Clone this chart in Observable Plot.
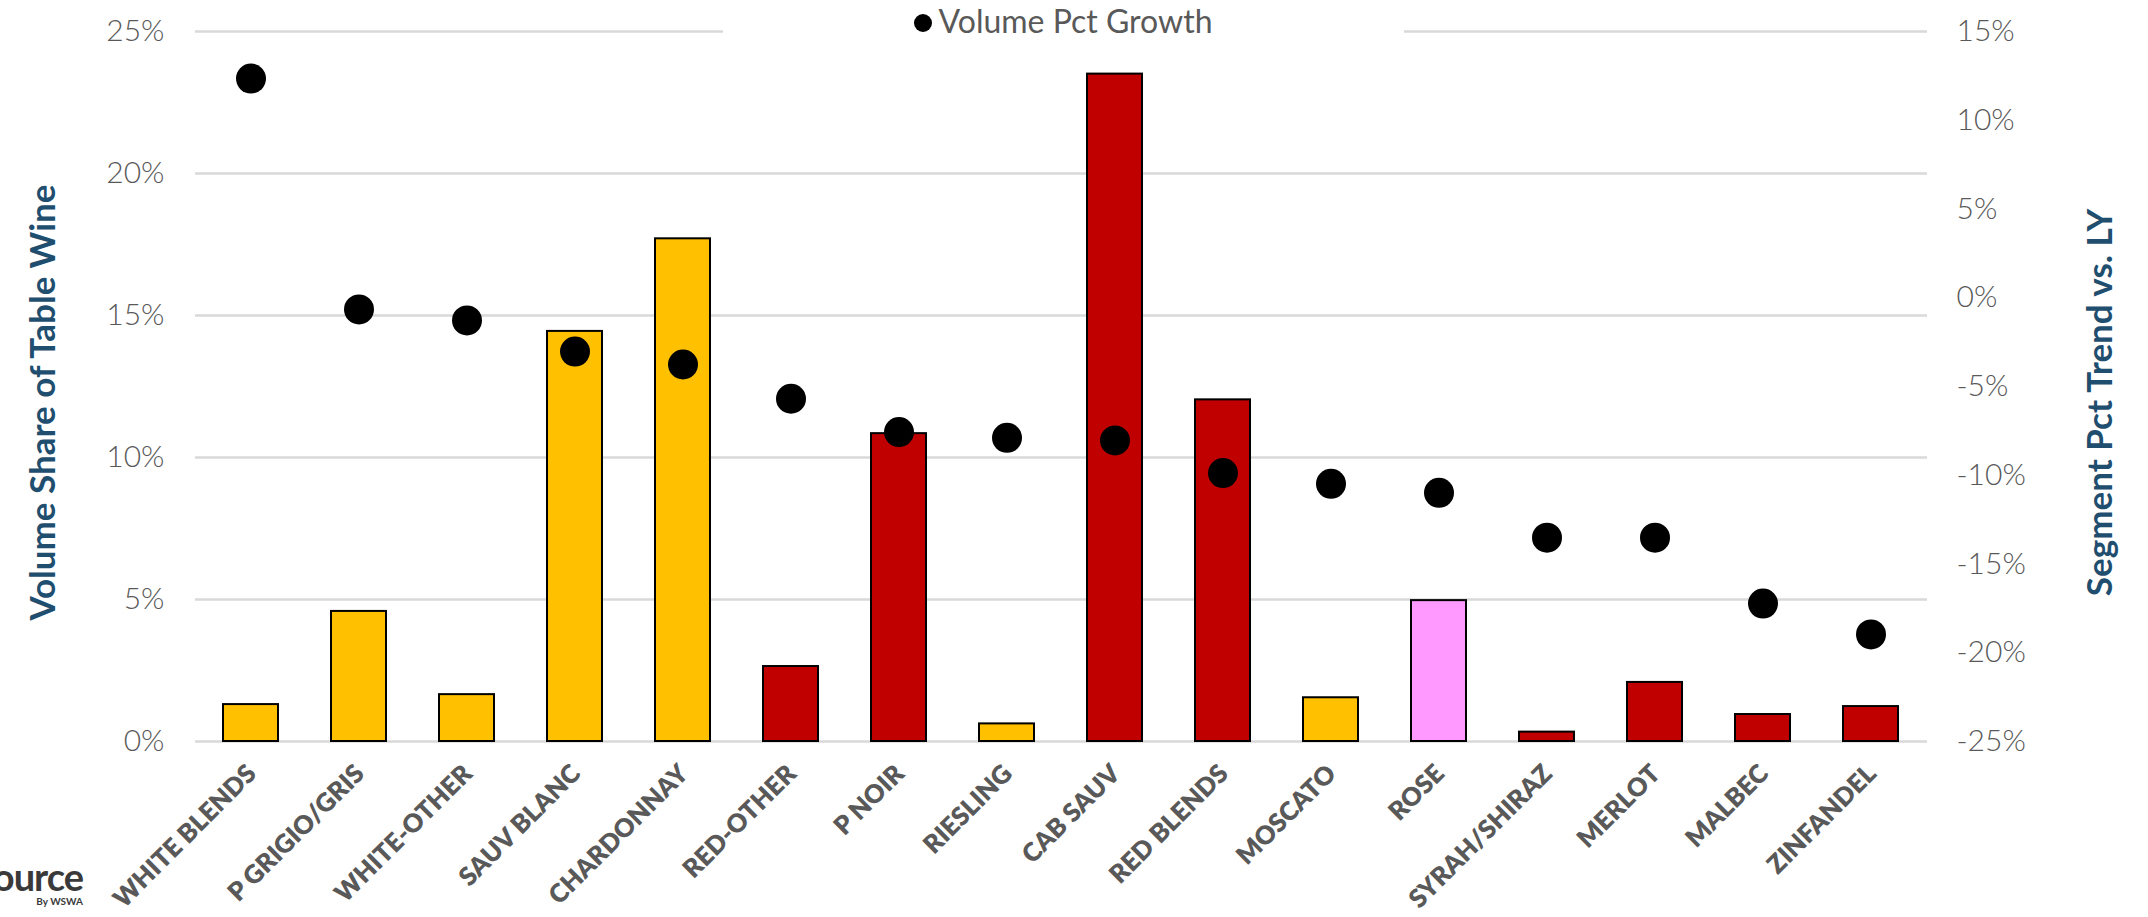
<!DOCTYPE html>
<html>
<head>
<meta charset="utf-8">
<script src="https://cdn.jsdelivr.net/npm/d3@7"></script>
<script src="https://cdn.jsdelivr.net/npm/@observablehq/plot@0.6"></script>
<style>
  html, body { margin: 0; padding: 0; background: #fff; overflow: hidden; }
  #wrap { position: relative; width: 2148px; height: 917px; }
  #chart svg { display: block; }
  #chart g[aria-label="y-axis label"] { fill: #1f4e6e; font-weight: 700; font-size: 35px; font-family: Lato, sans-serif; translate: 0 16px; }
  .legend {
    position: absolute; top: 1px; left: 723px; width: 681px; height: 40px;
    background: #fff; text-align: center; font: 32px Lato, sans-serif; color: #595959;
    line-height: 40px; white-space: nowrap;
  }
  .legend .sw { display: inline-block; width: 18px; height: 18px; border-radius: 50%; background: #000; margin-right: 6px; vertical-align: 1px; }
  .logo { position: absolute; right: 2065px; top: 856px; text-align: right; color: #3a3a3a; font-family: Lato, sans-serif; white-space: nowrap; }
  .logo .big { font-size: 38px; font-weight: 700; line-height: 40px; letter-spacing: -1px; }
  .logo .small { font-size: 10px; font-weight: 700; line-height: 10px; }
</style>
</head>
<body>
<div id="wrap">
  <div id="chart"></div>
  <div class="legend"><span class="sw"></span>Volume Pct Growth</div>
  <div class="logo"><div class="big">Source</div><div class="small">By WSWA</div></div>
</div>
<script>
// Wine segments, in display order
const segments = ["WHITE BLENDS", "P GRIGIO/GRIS", "WHITE-OTHER", "SAUV BLANC", "CHARDONNAY", "RED-OTHER",
  "P NOIR", "RIESLING", "CAB SAUV", "RED BLENDS", "MOSCATO", "ROSE", "SYRAH/SHIRAZ", "MERLOT", "MALBEC", "ZINFANDEL"];
// Volume share of table wine (%)
const volumeShare = [1.3, 4.58, 1.65, 14.44, 17.7, 2.64, 10.84, 0.62, 23.5, 12.03, 1.54, 4.96, 0.33, 2.08, 0.95, 1.23];
// Volume pct growth vs. last year (%)
const volumeGrowth = [12.35, -0.66, -1.28, -3.03, -3.76, -5.69, -7.57, -7.89, -8.04, -9.88, -10.48, -10.99, -13.52, -13.52, -17.23, -18.97];
// Wine type of each segment
const wineType = ["white", "white", "white", "white", "white", "red", "red", "white", "red", "red", "white", "rose", "red", "red", "red", "red"];

const leftTicks = [0, 5, 10, 15, 20, 25];
const rightTicks = [15, 10, 5, 0, -5, -10, -15, -20, -25];
const typeColors = {white: "#FFC000", red: "#C00000", rose: "#FF99FF"};

// Secondary axis: growth range [-25, 15] shares the primary [0, 25] extent
const growthToShare = d3.scaleLinear([-25, 15], [0, 25]);

const data = segments.map((name, i) => ({
  name, share: volumeShare[i], growth: volumeGrowth[i], type: wineType[i]
}));

const tickFont = {fontSize: 30, fontFamily: "Lato, sans-serif", fontWeight: 300, fill: "#595959"};

const chart = Plot.plot({
  width: 2148,
  height: 917,
  marginLeft: 195,
  marginRight: 221,
  marginTop: 31,
  marginBottom: 176,
  x: {domain: segments, paddingInner: 0.49, paddingOuter: 0.245},
  y: {domain: [0, 25]},
  marks: [
    Plot.gridY(leftTicks, {stroke: "#d9d9d9", strokeOpacity: 1, strokeWidth: 2.5}),
    Plot.barY(data, {
      x: "name", y: "share",
      fill: d => typeColors[d.type],
      stroke: "#000", strokeWidth: 2
    }),
    Plot.dot(data, {x: "name", y: d => growthToShare(d.growth), r: 15, fill: "#000", stroke: "none"}),
    Plot.axisY({
      anchor: "left", ticks: leftTicks, tickSize: 0, tickPadding: 31,
      tickFormat: d => `${d}%`,
      label: "Volume Share of Table Wine", labelAnchor: "center", labelOffset: 165, labelArrow: "none",
      ...tickFont
    }),
    Plot.axisY({
      anchor: "right", ticks: rightTicks.map(growthToShare), tickSize: 0, tickPadding: 29,
      tickFormat: d => `${Math.round(growthToShare.invert(d))}%`,
      label: "Segment Pct Trend vs. LY", labelAnchor: "center", labelOffset: 184, labelArrow: "none",
      ...tickFont
    }),
    Plot.axisX({
      tickSize: 0, tickPadding: 28, tickRotate: -45, label: null, dx: 1,
      fontSize: 25.5, fontWeight: 800, fontFamily: "Lato, sans-serif", fill: "#595959"
    })
  ]
});

document.getElementById("chart").appendChild(chart);
</script>
</body>
</html>
